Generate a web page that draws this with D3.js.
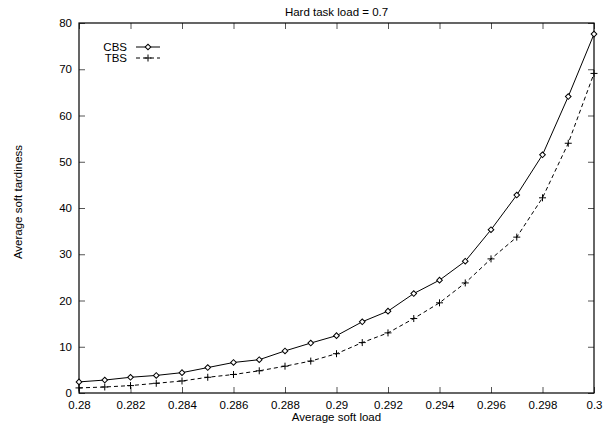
<!DOCTYPE html>
<html>
<head>
<meta charset="utf-8">
<script src="https://cdn.jsdelivr.net/npm/d3@7/dist/d3.min.js"></script>
<style>
  html, body { margin: 0; padding: 0; background: #fff; }
  svg text { font-family: "Liberation Sans", Arial, Helvetica, sans-serif; fill: #000; }
</style>
</head>
<body>
<svg id="chart" width="607" height="426"></svg>
<script>
// Average soft load on the x axis
const loads = [0.280, 0.281, 0.282, 0.283, 0.284, 0.285, 0.286, 0.287, 0.288, 0.289, 0.290,
               0.291, 0.292, 0.293, 0.294, 0.295, 0.296, 0.297, 0.298, 0.299, 0.300];
// Average soft tardiness per scheduler
const cbsValues = [2.4, 2.8, 3.4, 3.8, 4.4, 5.5, 6.6, 7.2, 9.1, 10.8, 12.4,
                   15.4, 17.7, 21.5, 24.4, 28.5, 35.3, 42.8, 51.5, 64.1, 77.6];
const tbsValues = [1.1, 1.3, 1.6, 2.1, 2.6, 3.4, 4.0, 4.8, 5.8, 6.9, 8.5,
                   10.9, 13.0, 16.1, 19.5, 23.8, 29.0, 33.7, 42.2, 54.0, 69.1];
const xTicks = [0.28, 0.282, 0.284, 0.286, 0.288, 0.29, 0.292, 0.294, 0.296, 0.298, 0.3];
const xTickLabels = ["0.28", "0.282", "0.284", "0.286", "0.288", "0.29", "0.292", "0.294", "0.296", "0.298", "0.3"];
const yTicks = [0, 10, 20, 30, 40, 50, 60, 70, 80];
const seriesNames = ["CBS", "TBS"];
const titleText = "Hard task load = 0.7";
const xLabel = "Average soft load";
const yLabel = "Average soft tardiness";

const svg = d3.select("#chart");
const W = 607, H = 426;
const m = { left: 79, right: 13, top: 23, bottom: 33 };
const x = d3.scaleLinear().domain([0.28, 0.3]).range([m.left, W - m.right]);
const y = d3.scaleLinear().domain([0, 80]).range([H - m.bottom, m.top]);
const fs = 11.5;

// inward ticks on all four sides
const tickStroke = "#555";
const axBottom = svg.append("g").attr("transform", `translate(0,${y(0)})`)
  .call(d3.axisBottom(x).tickValues(xTicks).tickSize(-6).tickPadding(8)
        .tickFormat((d, i) => xTickLabels[i]));
const axTop = svg.append("g").attr("transform", `translate(0,${y(80)})`)
  .call(d3.axisTop(x).tickValues(xTicks).tickSize(-6).tickFormat(""));
const axLeft = svg.append("g").attr("transform", `translate(${x(0.28)},0)`)
  .call(d3.axisLeft(y).tickValues(yTicks).tickSize(-6).tickPadding(7));
const axRight = svg.append("g").attr("transform", `translate(${x(0.3)},0)`)
  .call(d3.axisRight(y).tickValues(yTicks).tickSize(-6).tickFormat(""));
[axBottom, axTop, axLeft, axRight].forEach(g => {
  g.select(".domain").remove();
  g.selectAll(".tick line").attr("stroke", tickStroke).attr("stroke-width", 1);
  g.selectAll("text").attr("font-size", fs).attr("font-family", null).attr("fill", "#000");
});

// plot frame
svg.append("rect")
  .attr("x", x(0.28)).attr("y", y(80))
  .attr("width", x(0.3) - x(0.28)).attr("height", y(0) - y(80))
  .attr("fill", "none").attr("stroke", "#000").attr("stroke-width", 1.2);

// titles
svg.append("text").attr("x", (x(0.28) + x(0.3)) / 2).attr("y", 16)
  .attr("text-anchor", "middle").attr("font-size", fs).text(titleText);
svg.append("text").attr("x", (x(0.28) + x(0.3)) / 2).attr("y", 421)
  .attr("text-anchor", "middle").attr("font-size", fs).text(xLabel);
svg.append("text").attr("transform", `translate(22,${(y(0) + y(80)) / 2 - 6}) rotate(-90)`)
  .attr("text-anchor", "middle").attr("font-size", fs).text(yLabel);

const line = d3.line().x(d => x(d[0])).y(d => y(d[1]));
const cbs = loads.map((l, i) => [l, cbsValues[i]]);
const tbs = loads.map((l, i) => [l, tbsValues[i]]);

svg.append("path").datum(cbs).attr("d", line)
  .attr("fill", "none").attr("stroke", "#000").attr("stroke-width", 1);
svg.append("path").datum(tbs).attr("d", line)
  .attr("fill", "none").attr("stroke", "#000").attr("stroke-width", 1)
  .attr("stroke-dasharray", "4,3");

// markers: open diamonds for CBS, plus signs for TBS
const diamond = d3.symbol().type(d3.symbolSquare).size(16);
function drawDiamond(g, px, py) {
  g.append("path").attr("d", diamond())
    .attr("transform", `translate(${px},${py}) rotate(45)`)
    .attr("fill", "#fff").attr("stroke", "#000").attr("stroke-width", 1);
}
const pr = 3.5;
function drawPlus(g, px, py) {
  const p = d3.path();
  p.moveTo(px - pr, py); p.lineTo(px + pr, py);
  p.moveTo(px, py - pr); p.lineTo(px, py + pr);
  g.append("path").attr("d", p.toString()).attr("stroke", "#000").attr("stroke-width", 1).attr("fill", "none");
}
const gm = svg.append("g");
cbs.forEach(d => drawDiamond(gm, x(d[0]), y(d[1])));
tbs.forEach(d => drawPlus(gm, x(d[0]), y(d[1])));

// legend
const lg = svg.append("g");
const legendRows = [
  { name: seriesNames[0], dash: null, mark: drawDiamond, yy: 47 },
  { name: seriesNames[1], dash: "4,3", mark: drawPlus, yy: 58 }
];
legendRows.forEach(r => {
  lg.append("text").attr("x", 127).attr("y", r.yy + 4).attr("text-anchor", "end")
    .attr("font-size", fs).text(r.name);
  lg.append("line").attr("x1", 136).attr("x2", 160).attr("y1", r.yy).attr("y2", r.yy)
    .attr("stroke", "#000").attr("stroke-width", 1).attr("stroke-dasharray", r.dash);
  r.mark(lg, 148, r.yy);
});
</script>
</body>
</html>
